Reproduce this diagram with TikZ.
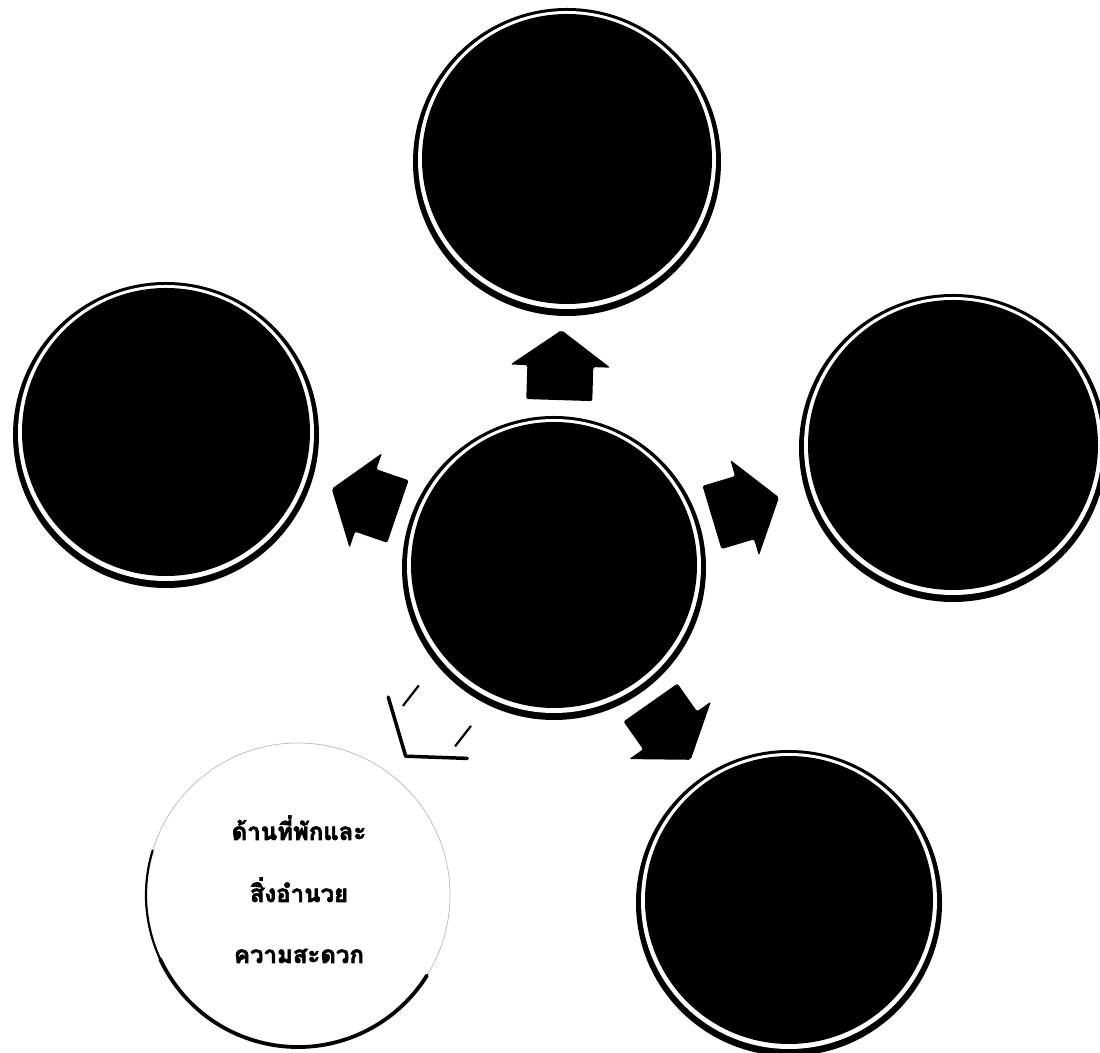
\documentclass[tikz,border=0pt]{standalone}
\usepackage{fontspec}
\newfontfamily\thaifont[Script=Thai, BoldFeatures={FakeBold=2.5}]{Loma}
\usetikzlibrary{calc}
\newcommand\myring[3]{%
  \fill[black] (#1,#2-3) circle[radius=#3+9];
  \fill[white] (#1,#2-1) circle[radius=#3+4];}
\newcommand\solidarrow{%
  \fill[black, rounded corners=2] (0,-33) -- (34,-33) -- (34,-50) -- (70,0) -- (34,50) -- (34,33) -- (0,33) -- cycle;}
\begin{document}
\begin{tikzpicture}[x=1pt,y=1pt,
  disc/.style={circle, fill=black, draw=none, inner sep=0pt, minimum size=#1},
  thaitext/.style={font=\thaifont\bfseries\fontsize{24}{28}\selectfont, anchor=base, inner sep=0pt}]
\useasboundingbox (0,0) rectangle (1100,1052);
\fill[white] (0,0) rectangle (1100,1052);
% rings
\myring{554}{487}{143}
\myring{567}{893}{145}
\myring{166}{620}{144}
\myring{953}{607}{145}
\myring{789}{152}{144}
% discs
\node[disc=286] (c) at (554,487) {};
\node[disc=290] (t) at (567,893) {};
\node[disc=288] (l) at (166,620) {};
\node[disc=290] (r) at (953,607) {};
\node[disc=288] (br) at (789,152) {};
% white circle
\node[circle, draw=gray!55, line width=0.7, inner sep=0pt, minimum size=304] (bl) at (298,157) {};
\draw[line width=2.2, line cap=round] ($(bl.center)+(163:152)$) arc[start angle=163, end angle=215, radius=152];
\draw[line width=3.8, line cap=round] ($(bl.center)+(205:152)$) arc[start angle=205, end angle=328, radius=152];
\node[thaitext] (txa) at (299,212) {ด้านที่พักและ};
\node[thaitext] (txb) at (299,150) {สิ่งอำนวย};
\node[thaitext] (txc) at (299,89) {ความสะดวก};
% arrows
\begin{scope}[shift={($(c)!165pt!(t)$)}, rotate=88.2] \solidarrow \end{scope}
\begin{scope}[shift={($(c)!165pt!(l)$)}, rotate=161.1] \solidarrow \end{scope}
\begin{scope}[shift={($(c)!165pt!(r)$)}, rotate=16.7] \solidarrow \end{scope}
\begin{scope}[shift={($(c)!168pt!(br)$)}, rotate=-54.9] \solidarrow \end{scope}
\begin{scope}[shift={($(c)!172pt!(bl)$)}, rotate=-127.8]
  \draw[line width=3.5, line join=round, line cap=round] (34,-50) -- (70,0) -- (34,50);
  \draw[line width=2.2] (6,33) -- (32,33);
  \draw[line width=2.2] (6,-33) -- (32,-33);
\end{scope}
\end{tikzpicture}
\end{document}
